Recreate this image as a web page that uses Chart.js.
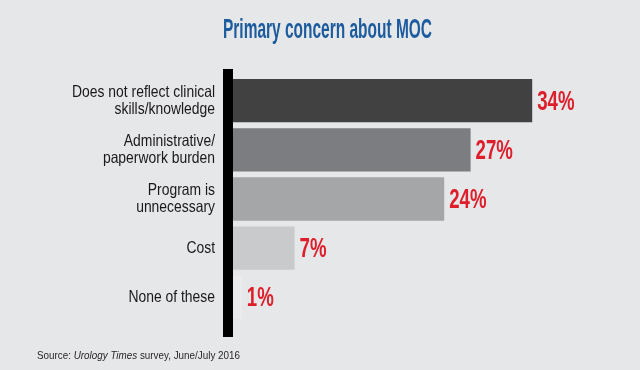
<!DOCTYPE html>
<html>
<head>
<meta charset="utf-8">
<script src="https://cdn.jsdelivr.net/npm/chart.js@4.4.0/dist/chart.umd.min.js"></script>
<style>
  body { margin: 0; background: #e6e7e9; }
  #wrap { width: 640px; height: 370px; }
</style>
</head>
<body>
<div id="wrap"><canvas id="grafico" width="640" height="370"></canvas></div>
<script>
// dados
const categorias = [
  ["Does not reflect clinical", "skills/knowledge"],
  ["Administrative/", "paperwork burden"],
  ["Program is", "unnecessary"],
  ["Cost"],
  ["None of these"]
];
const valores = [34, 27, 24, 7, 1];
const cores = ["#414142", "#7c7d80", "#a5a6a8", "#c9cacc", "#ebebed"];

const titulo = "Primary concern about MOC";
const fonte = "'Liberation Sans', Arial, sans-serif";

// texto "estreito": escala horizontal para imitar a fonte condensada
function textoEstreito(ctx, texto, x, y, escala, alinhamento) {
  ctx.save();
  ctx.translate(x, y);
  ctx.scale(escala, 1);
  ctx.textAlign = alinhamento;
  ctx.fillText(texto, 0, 0);
  ctx.restore();
}

const desenhaExtras = {
  id: "desenhaExtras",
  afterDatasetsDraw(chart) {
    const ctx = chart.ctx;
    const area = chart.chartArea;
    const eixoY = chart.scales.y;
    ctx.save();

    // eixo preto grosso
    ctx.fillStyle = "#000";
    ctx.fillRect(area.left - 10, area.top - 7, 10, area.bottom - area.top + 22);

    // rotulos das categorias
    ctx.fillStyle = "#1a1819";
    ctx.font = "16.5px " + fonte;
    ctx.textBaseline = "middle";
    const escalaRotulo = 143 / ctx.measureText(categorias[0][0]).width;
    categorias.forEach(function(linhas, i) {
      const centro = eixoY.getPixelForValue(i);
      const alturaLinha = 17;
      const inicio = centro - (linhas.length - 1) * alturaLinha / 2;
      linhas.forEach(function(l, j) {
        textoEstreito(ctx, l, area.left - 18, inicio + j * alturaLinha, escalaRotulo, "right");
      });
    });

    // valores em vermelho
    const meta = chart.getDatasetMeta(0);
    ctx.fillStyle = "#dd1f2b";
    ctx.font = "bold 27px " + fonte;
    meta.data.forEach(function(bar, i) {
      textoEstreito(ctx, valores[i] + "%", bar.x + 5, bar.y + 1.5, 0.69, "left");
    });

    // titulo
    ctx.fillStyle = "#1b5b9e";
    ctx.font = "bold 28px " + fonte;
    const escalaTitulo = 209 / ctx.measureText(titulo).width;
    textoEstreito(ctx, titulo, 327.5, 30, escalaTitulo, "center");

    // fonte dos dados
    ctx.fillStyle = "#231f20";
    ctx.textBaseline = "alphabetic";
    const partes = [
      ["10.5px " + fonte, "Source: "],
      ["italic 10.5px " + fonte, "Urology Times"],
      ["10.5px " + fonte, " survey, June/July 2016"]
    ];
    let total = 0;
    partes.forEach(function(p) { ctx.font = p[0]; total += ctx.measureText(p[1]).width; });
    const escalaFonte = 203 / total;
    let x = 37;
    partes.forEach(function(p) {
      ctx.font = p[0];
      textoEstreito(ctx, p[1], x, 359, escalaFonte, "left");
      x += ctx.measureText(p[1]).width * escalaFonte;
    });
    ctx.restore();
  }
};

new Chart(document.getElementById("grafico"), {
  type: "bar",
  data: {
    labels: categorias,
    datasets: [{
      data: valores,
      backgroundColor: cores,
      borderWidth: 0,
      categoryPercentage: 1,
      barPercentage: 0.88
    }]
  },
  options: {
    indexAxis: "y",
    responsive: false,
    animation: false,
    layout: { padding: { left: 0, right: 55, top: 76, bottom: 48 } },
    plugins: {
      legend: { display: false },
      tooltip: { enabled: false }
    },
    scales: {
      x: { display: false, min: 0, max: 40 },
      y: {
        grid: { display: false, drawTicks: false },
        border: { display: false },
        afterFit: function(scale) { scale.width = 233; },
        ticks: { display: false }
      }
    }
  },
  plugins: [desenhaExtras]
});
</script>
</body>
</html>
